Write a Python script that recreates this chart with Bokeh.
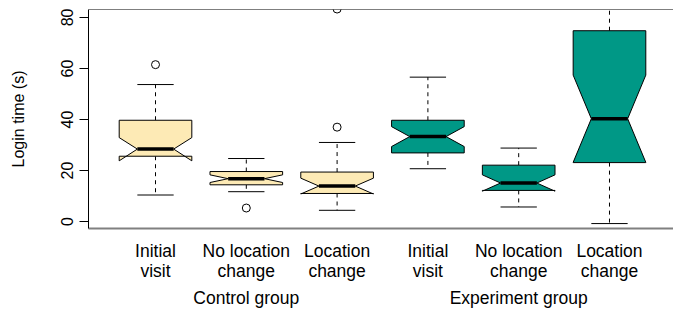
from bokeh.plotting import figure
from bokeh.models import Range1d, FixedTicker, Span, LinearAxis
from bokeh.embed import file_html
from bokeh.resources import INLINE

# ---- data ----
categories = ["Initial\nvisit", "No location\nchange", "Location\nchange",
              "Initial\nvisit", "No location\nchange", "Location\nchange"]
groups = ["Control group", "Experiment group"]
box_group = [0, 0, 0, 1, 1, 1]
whisker_low = [10.4, 11.7, 4.4, 20.7, 5.7, -0.8]
q1 = [25.6, 14.4, 11.0, 26.9, 12.2, 23.1]
median = [28.4, 16.8, 13.9, 33.3, 15.1, 40.3]
q3 = [39.7, 19.6, 19.4, 39.7, 22.1, 74.8]
whisker_high = [53.7, 24.7, 31.0, 56.6, 28.8, 100.0]
notch_low = [23.8, 15.3, 10.8, 29.4, 11.9, 23.2]
notch_high = [32.9, 18.3, 17.0, 37.2, 18.3, 57.4]
outliers = [[61.5], [5.3], [37.0, 83.3], [], [], []]
y_ticks = [0, 20, 40, 60, 80]

group_colors = ["#FDEAB5", "#009886"]
FONT = "Liberation Sans"

positions = list(range(1, len(categories) + 1))
group_pos = [2, 5]
half_w = 0.4
notch_w = 0.2
cap_w = 0.2
Y0, Y1 = -2.73, 83.12

p = figure(width=673, height=310,
           x_range=Range1d(0.262, 6.705), y_range=Range1d(Y0, Y1),
           output_backend="svg", toolbar_location=None,
           min_border_left=88, min_border_right=0, min_border_top=9,
           min_border_bottom=81)
p.grid.visible = False
p.outline_line_color = None

# whiskers
wx, wy0, wy1 = [], [], []
for i, x in enumerate(positions):
    wx += [x, x]
    wy0 += [q1[i], q3[i]]
    wy1 += [whisker_low[i], whisker_high[i]]
p.segment(x0=wx, y0=wy0, x1=wx, y1=wy1, line_color="black",
          line_dash="4 4", line_width=1)
# caps
cx0, cx1, cy = [], [], []
for i, x in enumerate(positions):
    cx0 += [x - cap_w, x - cap_w]
    cx1 += [x + cap_w, x + cap_w]
    cy += [whisker_low[i], whisker_high[i]]
p.segment(x0=cx0, y0=cy, x1=cx1, y1=cy, line_color="black", line_width=1)

# notched boxes
xs, ys, fills = [], [], []
for i, x in enumerate(positions):
    l, r = x - half_w, x + half_w
    xs.append([l, l, x - notch_w, l, l, r, r, x + notch_w, r, r])
    ys.append([q1[i], notch_low[i], median[i], notch_high[i], q3[i],
               q3[i], notch_high[i], median[i], notch_low[i], q1[i]])
    fills.append(group_colors[box_group[i]])
p.patches(xs=xs, ys=ys, fill_color=fills, line_color="black", line_width=1)

# medians
p.segment(x0=[x - notch_w for x in positions], y0=median,
          x1=[x + notch_w for x in positions], y1=median,
          line_color="black", line_width=3.5)

# outliers
ox, oy = [], []
for i, x in enumerate(positions):
    for v in outliers[i]:
        ox.append(x)
        oy.append(v)
p.scatter(x=ox, y=oy, marker="circle", size=8, fill_color=None,
          line_color="black", line_width=1)

# top frame line
p.add_layout(Span(location=Y1, dimension="width",
                  line_color="black", line_width=1))

# y axis
ya = p.yaxis[0]
ya.ticker = FixedTicker(ticks=y_ticks)
ya.minor_tick_line_color = None
ya.major_tick_out = 9
ya.major_tick_in = 0
ya.major_label_orientation = "vertical"
ya.major_label_standoff = 6
ya.axis_label = "Login time (s)"
ya.axis_label_standoff = 32
ya.axis_label_text_font_style = "normal"
ya.axis_label_text_font = FONT
ya.axis_label_text_font_size = "16px"
ya.major_label_text_font = FONT
ya.major_label_text_font_size = "16px"
ya.axis_line_color = "black"
ya.major_label_text_color = "black"
ya.axis_label_text_color = "black"

# x axis (category labels)
xa = p.xaxis[0]
xa.ticker = FixedTicker(ticks=positions)
xa.major_label_overrides = {x: c for x, c in zip(positions, categories)}
xa.major_tick_line_color = None
xa.minor_tick_line_color = None
xa.major_tick_out = 0
xa.major_tick_in = 0
xa.major_label_standoff = 12
xa.axis_line_color = "#808080"
xa.axis_line_width = 2
xa.major_label_text_font = FONT
xa.major_label_text_font_size = "17.5px"
xa.major_label_text_line_height = 1.0
xa.major_label_text_color = "black"

# group labels
ga = LinearAxis(ticker=FixedTicker(ticks=group_pos),
                major_label_overrides={x: g for x, g in zip(group_pos, groups)},
                axis_line_color=None, major_tick_line_color=None,
                minor_tick_line_color=None, major_tick_out=0, major_tick_in=0,
                major_label_standoff=4, major_label_text_font=FONT,
                major_label_text_font_size="17.5px",
                major_label_text_color="black")
p.add_layout(ga, "below")

open("out.html", "w").write(file_html(p, INLINE))
